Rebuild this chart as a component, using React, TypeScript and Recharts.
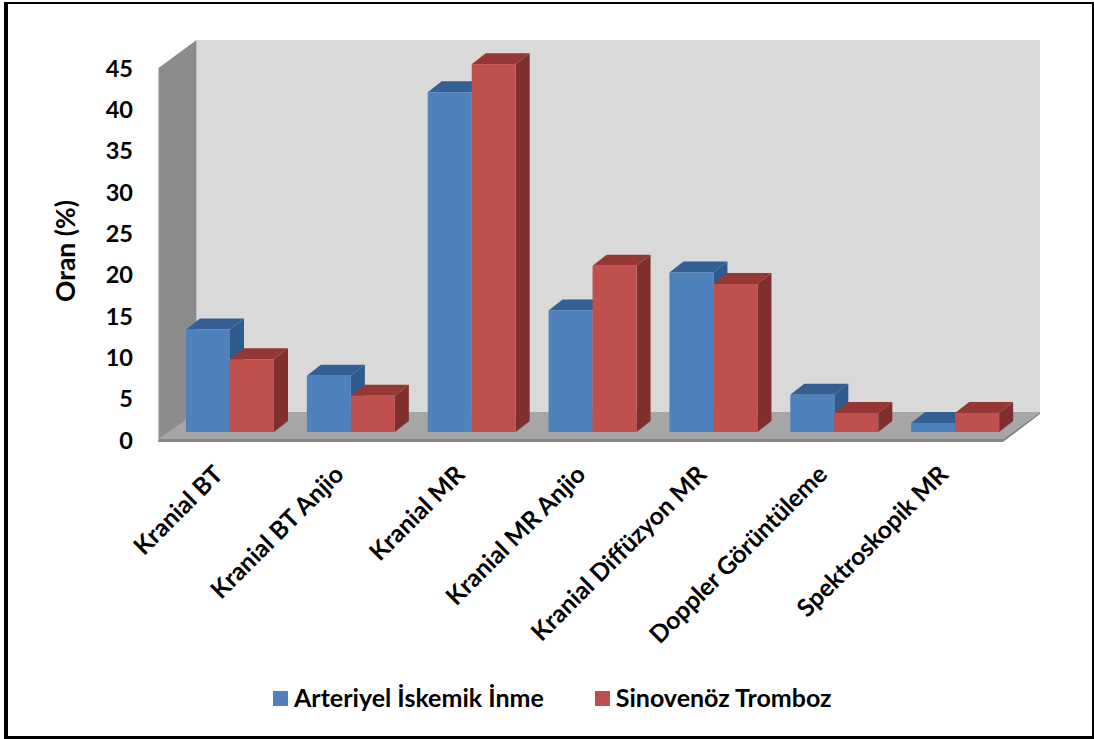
import { Bar, BarChart, Legend, usePlotArea, XAxis, YAxis } from "recharts";

const categories = [
  "Kranial BT",
  "Kranial BT Anjio",
  "Kranial MR",
  "Kranial MR Anjio",
  "Kranial Diffüzyon MR",
  "Doppler Görüntüleme",
  "Spektroskopik MR",
];
const arterial = [12.4, 6.8, 41.1, 14.7, 19.3, 4.5, 1.1];
const venous = [8.8, 4.4, 44.5, 20.1, 17.9, 2.3, 2.3];
const yTicks = [0, 5, 10, 15, 20, 25, 30, 35, 40, 45];

const rows = categories.map((name, i) => ({
  name,
  arterial: arterial[i],
  venous: venous[i],
}));

const FONT = "Lato, 'Open Sans', sans-serif";
const DEPTH_X = 14;
const DEPTH_Y = 11;

/** Back wall, side wall and floor of the 3D box, placed relative to the plot area. */
function Room() {
  const plot = usePlotArea();
  if (!plot) return null;
  const left = plot.x - 11.5;
  const back = plot.x + 26.5;
  const right = plot.x + plot.width + 24;
  const frontRight = plot.x + plot.width - 13;
  const floorBack = plot.y + plot.height - 20;
  const floorFront = plot.y + plot.height + 7;
  const top = plot.y - 20;
  return (
    <g>
      <rect x={back} y={top} width={right - back} height={floorBack - top} fill="#d9d9d9" />
      <polygon
        points={`${left},${top + 28} ${back},${top} ${back},${floorBack} ${left},${floorFront + 3}`}
        fill="#8c8c8c"
      />
      <polygon
        points={`${left},${floorFront} ${back},${floorBack} ${right},${floorBack} ${frontRight},${floorFront}`}
        fill="#a6a6a6"
      />
      <polygon
        points={`${left},${floorFront} ${frontRight},${floorFront} ${right},${floorBack} ${right},${floorBack + 2} ${frontRight},${floorFront + 3} ${left},${floorFront + 3}`}
        fill="#858585"
      />
    </g>
  );
}

/** Bar with a lit front, a top face and a darker side face. */
function box(front: string, topFace: string, sideFace: string) {
  return function Box({ x, y, width, height }: any) {
    const right = x + width;
    const bottom = y + height;
    return (
      <g>
        <polygon
          points={`${right},${y} ${right + DEPTH_X},${y - DEPTH_Y} ${right + DEPTH_X},${bottom - DEPTH_Y} ${right},${bottom}`}
          fill={sideFace}
        />
        <polygon
          points={`${x},${y} ${x + DEPTH_X},${y - DEPTH_Y} ${right + DEPTH_X},${y - DEPTH_Y} ${right},${y}`}
          fill={topFace}
        />
        <rect x={x} y={y} width={width} height={height} fill={front} />
      </g>
    );
  };
}

function YTick({ y, payload }: any) {
  return (
    <text x={133} y={y + 16.5} textAnchor="end" fontSize={23.5} fontWeight={700} fill="#000" fontFamily={FONT}>
      {payload.value}
    </text>
  );
}

function XTick({ x, y, payload }: any) {
  const ax = x - 6;
  const ay = y + 36;
  return (
    <text
      x={ax}
      y={ay}
      textAnchor="end"
      fontSize={24.6}
      fontWeight={700}
      fill="#000"
      fontFamily={FONT}
      transform={`rotate(-45 ${ax} ${ay})`}
    >
      {payload.value}
    </text>
  );
}

function AxisTitle({ viewBox }: any) {
  const cx = viewBox.x - 46;
  const cy = viewBox.y + viewBox.height / 2 + 5;
  return (
    <text
      x={cx}
      y={cy}
      textAnchor="middle"
      dominantBaseline="central"
      fontSize={26.5}
      fontWeight={700}
      fill="#000"
      fontFamily={FONT}
      transform={`rotate(-90 ${cx} ${cy})`}
    >
      Oran (%)
    </text>
  );
}

function LegendRow({ payload }: any) {
  return (
    <div style={{ display: "flex", fontFamily: FONT, fontSize: 25, fontWeight: 700, color: "#000" }}>
      {(payload || []).map((item: any, i: number) => (
        <div key={item.value} style={{ display: "flex", alignItems: "center", marginRight: i === 0 ? 51 : 0 }}>
          <span style={{ width: 15, height: 15, background: item.color, marginRight: 6 }} />
          <span style={{ lineHeight: "28px", whiteSpace: "nowrap", position: "relative", top: -2 }}>{item.value}</span>
        </div>
      ))}
    </div>
  );
}

export default function App() {
  return (
    <div
      style={{
        position: "absolute",
        left: 0,
        top: 0,
        width: 1094,
        height: 739,
        background: "#fff",
        overflow: "hidden",
      }}
    >
      <div
        style={{
          position: "absolute",
          left: 4,
          top: 2,
          width: 1084,
          height: 732,
          borderLeft: "4px solid #000",
          borderTop: "2px solid #000",
          borderRight: "2px solid #000",
          borderBottom: "3px solid #000",
        }}
      />
      <BarChart
        width={1094}
        height={739}
        data={rows}
        barSize={44}
        barGap={0}
        margin={{ top: 60, right: 78, bottom: 207, left: 110.5 }}
        style={{ position: "absolute", left: 0, top: 0 }}
      >
        <Room />
        <XAxis dataKey="name" interval={0} height={100} axisLine={false} tickLine={false} tick={<XTick />} />
        <YAxis
          domain={[0, 45]}
          ticks={yTicks}
          width={59.5}
          axisLine={false}
          tickLine={false}
          tick={<YTick />}
          label={<AxisTitle />}
        />
        <Legend
          verticalAlign="middle"
          wrapperStyle={{ top: 684.5, left: 273, width: "auto" }}
          content={<LegendRow />}
        />
        <Bar
          dataKey="arterial"
          name="Arteriyel İskemik İnme"
          fill="#4f81bd"
          isAnimationActive={false}
          shape={box("#4f81bd", "#335f94", "#2f5a8c")}
        />
        <Bar
          dataKey="venous"
          name="Sinovenöz Tromboz"
          fill="#c0504d"
          isAnimationActive={false}
          shape={box("#c0504d", "#953735", "#7f302e")}
        />
      </BarChart>
    </div>
  );
}
